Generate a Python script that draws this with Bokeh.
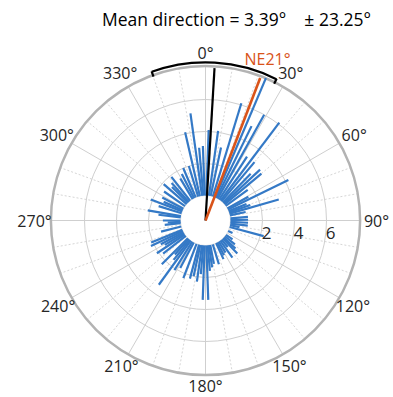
import numpy as np
from bokeh.plotting import figure
from bokeh.models import Range1d
from bokeh.core.properties import value
from bokeh.embed import file_html
from bokeh.resources import INLINE

# ---- data (compass degrees, clockwise from north) ----
bar_angles = [2, 8, 12, 17, 23, 26, 29, 33, 37, 40, 44, 47, 50, 54, 61, 64, 68, 71, 74, 78, 85, 89,
              93, 97, 101, 105, 115, 125, 129, 133, 136, 140, 144, 148, 152, 155, 163, 169, 172, 175, 178,
              182, 185, 188, 192, 195, 201, 208, 212, 216, 219, 222, 225, 232, 236, 239, 242, 245, 248,
              256, 264, 267,
              270, 277, 280, 287, 291, 294, 298, 305, 311, 315, 318, 322, 329, 333, 337, 343, 347, 352,
              355, 358]
bar_counts = [4.1, 4.1, 3.1, 6.1, 8.1, 5.0, 6.0, 3.2, 6.1, 3.2, 2.5, 3.1, 3.0, 1.7, 1.5, 4.2, 1.2, 1.4, 3.2, 1.0, 1.1, 1.1,
              1.1, 1.1, 0.6, 2.2, 0.3, 0.5, 0.8, 1.0, 1.3, 0.6, 1.3, 0.8, 0.9, 1.1, 1.3, 1.2, 1.4, 1.6, 3.4,
              3.4, 1.8, 2.3, 2.0, 2.2, 2.3, 1.8, 2.1, 3.4, 1.6, 1.3, 2.3, 1.8, 2.1, 1.4, 1.6, 2.2, 2.1,
              1.3, 1.0, 0.8,
              1.1, 1.4, 2.1, 1.5, 2.1, 1.3, 1.5, 1.6, 1.9, 1.4, 1.6, 1.9, 1.5, 1.7, 2.0, 2.0, 4.1, 5.2,
              3.0, 3.1]
mean_dir = 3.39
spread = 23.25
ne_dir = 21
ne_label = "NE21°"
ring_values = [2, 4, 6]
ring_labels = ["2", "4", "6"]
r_max_value = 8.1
angle_ticks = list(range(0, 360, 30))
angle_labels = [f"{a}°" for a in angle_ticks]
title_text = f"Mean direction = {mean_dir:.2f}°\u00a0\u00a0\u00a0\u00a0± {spread:.2f}°"

# ---- geometry / style ----
R0 = 25.0      # hole radius (value 0)
K = 16.0       # px per count unit
R_OUT = R0 + K * r_max_value
BLUE = "#3479c6"
ORANGE = "#d95319"
GRID = "#cfcfcf"
TXT = "#262626"
FONT = value("Open Sans")


def xy(theta_deg, r):
    t = np.radians(np.asarray(theta_deg, dtype=float))
    r = np.asarray(r, dtype=float)
    return r * np.sin(t), r * np.cos(t)


p = figure(width=393, height=397, x_range=Range1d(-205, 188), y_range=Range1d(-177, 220),
           output_backend="svg", toolbar_location=None, min_border=0)
p.axis.visible = False
p.grid.visible = False
p.outline_line_color = None
p.background_fill_color = "white"

# dotted radial lines every 10 deg (skip multiples of 30)
minor = [a for a in range(0, 360, 10) if a % 30 != 0]
x0, y0 = xy(minor, [R0] * len(minor))
x1, y1 = xy(minor, [R_OUT] * len(minor))
p.segment(x0, y0, x1, y1, line_color="#d6d6d6", line_width=1, line_dash="2 2")
# solid radial lines every 30 deg
x0, y0 = xy(angle_ticks, [R0] * len(angle_ticks))
x1, y1 = xy(angle_ticks, [R_OUT] * len(angle_ticks))
p.segment(x0, y0, x1, y1, line_color=GRID, line_width=1)
# rings
ring_r = [R0 + K * v for v in ring_values]
p.circle(x=[0] * len(ring_r), y=[0] * len(ring_r), radius=ring_r,
         fill_color=None, line_color=GRID, line_width=1)
p.circle(x=[0], y=[0], radius=[R0], fill_color=None, line_color="#e2e2e2", line_width=1)
p.circle(x=[0], y=[0], radius=[R_OUT], fill_color=None, line_color="#b3b3b3", line_width=2.5)

# bars
n = len(bar_angles)
bx0, by0 = xy(bar_angles, [R0] * n)
bx1, by1 = xy(bar_angles, [R0 + K * c for c in bar_counts])
p.segment(bx0, by0, bx1, by1, line_color=BLUE, line_width=2.2)

# mean direction and NE line
L = R_OUT - 2
mx, my = xy([mean_dir], [L])
p.segment([0], [0], mx, my, line_color="black", line_width=2.2)
nx, ny = xy([ne_dir], [L])
p.segment([0], [0], nx, ny, line_color=ORANGE, line_width=2.6)

# spread arc with end ticks
RA = R_OUT + 3.5
p.arc(x=[0], y=[0], radius=RA,
      start_angle=np.radians(90 - (mean_dir + spread)),
      end_angle=np.radians(90 - (mean_dir - spread)),
      direction="anticlock", line_color="black", line_width=2.2)
ends = [mean_dir - spread, mean_dir + spread]
tx0, ty0 = xy(ends, [RA + 0.5, RA + 0.5])
tx1, ty1 = xy(ends, [RA - 5, RA - 5])
p.segment(tx0, ty0, tx1, ty1, line_color="black", line_width=2.2)

# angle labels
lab_r = [165 + 6 * abs(np.sin(np.radians(a))) + 3 * max(np.cos(np.radians(a)), 0)
         for a in angle_ticks]
lx, ly = xy(angle_ticks, lab_r)
p.text(lx, ly, text=angle_labels, text_font=FONT, text_font_size="16px",
       text_align="center", text_baseline="middle", text_color=TXT)

# ring value labels
p.text([r + 4 for r in ring_r], [-12] * len(ring_r), text=ring_labels, text_font=FONT,
       text_font_size="17px", text_align="center", text_baseline="middle", text_color=TXT)

# NE label
ex, ey = xy([ne_dir], [173])
p.text(ex, ey, text=[ne_label], text_font=FONT, text_font_size="16px",
       text_align="center", text_baseline="middle", text_color=ORANGE)

# title
p.text([31], [202], text=[title_text], text_font=FONT, text_font_size="17.5px",
       text_align="center", text_baseline="middle", text_color="black")

open("out.html", "w").write(file_html(p, INLINE))
